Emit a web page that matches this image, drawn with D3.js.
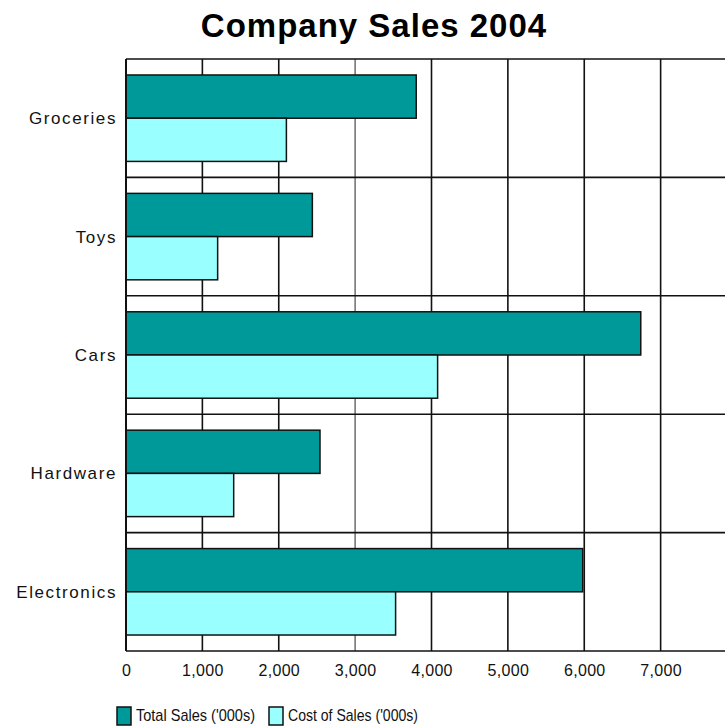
<!DOCTYPE html>
<html><head><meta charset="utf-8">
<script src="https://cdn.jsdelivr.net/npm/d3@7"></script>
<style>
html,body{margin:0;padding:0;background:#fff;}
svg{display:block;}
</style></head>
<body>
<script>
const categories = ["Groceries","Toys","Cars","Hardware","Electronics"];
const totalSales = [3800, 2440, 6740, 2540, 5980];
const costOfSales = [2100, 1200, 4080, 1410, 3530];
const seriesNames = ["Total Sales ('000s)", "Cost of Sales ('000s)"];
const seriesColors = ["#009999", "#99ffff"];
const xTicks = [0,1000,2000,3000,4000,5000,6000,7000,8000];
const xTickLabels = ["0","1,000","2,000","3,000","4,000","5,000","6,000","7,000",""];
const title = "Company Sales 2004";

const W = 725, H = 727;
const L = 126, R = 737, T = 59, B = 651;

const svg = d3.select("body").append("svg").attr("width", W).attr("height", H);

const x = d3.scaleLinear().domain([0, 8000]).range([L, R]);
const y = d3.scaleBand().domain(categories).range([T, B]).paddingInner(0.27).paddingOuter(0.135);
const sub = d3.scaleBand().domain([0,1]).range([0, y.bandwidth()]);

// title
svg.append("text").attr("x", 374).attr("y", 37).attr("text-anchor","middle")
  .attr("font-family","'Liberation Sans', Arial, sans-serif").attr("font-weight","bold")
  .attr("font-size", 33).attr("letter-spacing", 1).attr("fill","#000").text(title);

// vertical gridlines
const grid = svg.append("g");
grid.selectAll("line.v").data(xTicks).join("line")
  .attr("x1", d => x(d)).attr("x2", d => x(d)).attr("y1", T).attr("y2", B)
  .attr("stroke", d => d === 3000 ? "#777" : "#111").attr("stroke-width", 1.6);
// horizontal gridlines at category boundaries
const bounds = categories.map(c => y(c) - y.step()*y.paddingInner()/2).concat([B]);
grid.selectAll("line.h").data(bounds).join("line")
  .attr("x1", L).attr("x2", R).attr("y1", d => d).attr("y2", d => d)
  .attr("stroke","#111").attr("stroke-width", 1.6);

// bars
const data = categories.map((c,i) => ({c, vals:[totalSales[i], costOfSales[i]]}));
const g = svg.append("g");
data.forEach(d => {
  d.vals.forEach((v, k) => {
    g.append("rect")
      .attr("x", x(0)).attr("y", y(d.c) + sub(k))
      .attr("width", x(v) - x(0)).attr("height", sub.bandwidth())
      .attr("fill", seriesColors[k]).attr("stroke","#111").attr("stroke-width",1.5);
  });
});

// axis frame left
svg.append("line").attr("x1",L).attr("x2",L).attr("y1",T).attr("y2",B).attr("stroke","#111").attr("stroke-width",2);

// x axis labels
const xAxis = d3.axisBottom(x).tickValues(xTicks).tickSize(0).tickPadding(0)
  .tickFormat((d,i) => xTickLabels[i]);
const xa = svg.append("g").attr("transform", `translate(0,${B})`).call(xAxis);
xa.select(".domain").remove();
xa.selectAll("text").attr("font-family","'Liberation Sans', Arial, sans-serif")
  .attr("font-size", 16).attr("letter-spacing", 0.3).attr("fill","#111").attr("dy", null).attr("y", 25);

// y axis labels
const yAxis = d3.axisLeft(y).tickSize(0).tickPadding(0);
const ya = svg.append("g").attr("transform", `translate(${L - 9},0)`).call(yAxis);
ya.select(".domain").remove();
ya.selectAll("text").attr("font-family","'Liberation Sans', Arial, sans-serif")
  .attr("font-size", 17).attr("letter-spacing", 1.6).attr("fill","#111")
  .attr("dy", null).attr("y", 6);

// legend
const legendX = [117, 269];
const legendW = [119, 130];
const lg = svg.append("g");
seriesNames.forEach((n, k) => {
  lg.append("rect").attr("x", legendX[k]).attr("y", 707).attr("width", 14).attr("height", 18)
    .attr("fill", seriesColors[k]).attr("stroke","#111").attr("stroke-width",1.5);
  lg.append("text").attr("x", legendX[k] + 19).attr("y", 721)
    .attr("font-family","'Liberation Sans', Arial, sans-serif")
    .attr("font-size", 17).attr("textLength", legendW[k]).attr("lengthAdjust","spacingAndGlyphs")
    .attr("fill","#111").text(n);
});
</script>
</body></html>
